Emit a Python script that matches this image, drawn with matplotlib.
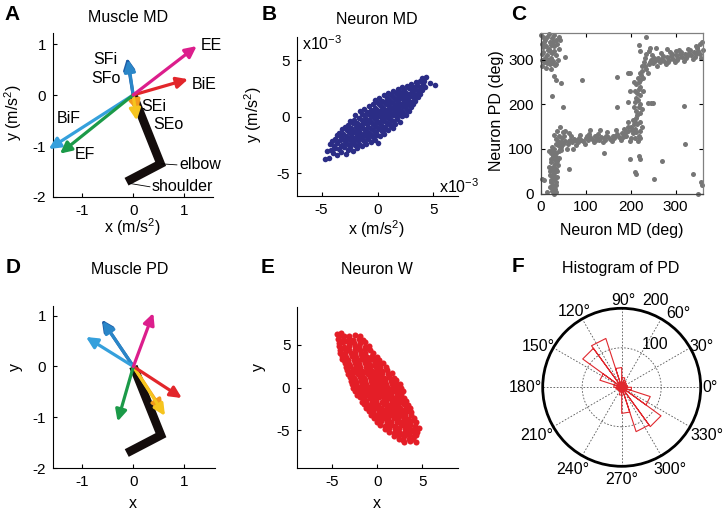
import numpy as np
import matplotlib.pyplot as plt

plt.rcParams['font.family'] = ['Liberation Sans', 'DejaVu Sans']
plt.rcParams['mathtext.fontset'] = 'custom'
plt.rcParams['mathtext.rm'] = 'Liberation Sans'
plt.rcParams['mathtext.it'] = 'Liberation Sans:italic'
plt.rcParams['mathtext.default'] = 'regular'
plt.rcParams['axes.unicode_minus'] = False

W, H = 727, 512

# ---- muscle directions (A: MD, D: PD) ----
muscles = ['SFi', 'SFo', 'SEi', 'SEo', 'BiF', 'BiE', 'EF', 'EE']
muscle_colors = ['#1d5ea8', '#2a86c8', '#f39a1c', '#f6c41e',
                 '#35a0dc', '#e2262b', '#1b9a48', '#dc1e8c']
md_x = [-0.12, -0.10, 0.10, 0.07, -1.66, 1.08, -1.44, 1.25]
md_y = [0.73, 0.69, -0.33, -0.50, -1.06, 0.31, -1.15, 0.96]
pd_x = [-0.62, -0.60, 0.58, 0.62, -0.93, 0.95, -0.31, 0.39]
pd_y = [0.92, 0.89, -0.88, -0.97, 0.58, -0.62, -1.08, 1.05]
arm_x = [0.0, 0.54, -0.13]   # hand, elbow, shoulder
arm_y = [0.0, -1.35, -1.70]

# ---- neuron movement directions (B), units 1e-3 m/s^2 ----
neuron_md = [
    (-4.70, -3.72), (-4.35, -3.68), (-4.52, -3.02), (-4.18, -2.91), (-4.27, -2.45), (-3.97, -3.21),
    (-4.05, -2.18), (-3.82, -2.72), (-3.76, -1.93), (-3.63, -3.38), (-3.58, -2.31), (-3.66, -1.62),
    (-3.41, -2.88), (-3.37, -2.04), (-3.45, -1.41), (-3.22, -3.12), (-3.18, -2.47), (-3.25, -1.83),
    (-3.15, -1.12), (-3.02, -2.71), (-2.96, -2.08), (-3.05, -1.52), (-2.93, -0.88), (-2.84, -3.28),
    (-2.78, -2.33), (-2.81, -1.69), (-2.76, -1.21), (-2.63, -2.92), (-2.57, -2.46), (-2.61, -1.88),
    (-2.55, -1.31), (-2.66, -0.72), (-2.43, -2.68), (-2.38, -2.12), (-2.41, -1.57), (-2.35, -0.98),
    (-2.45, -0.41), (-2.22, -3.01), (-2.18, -2.28), (-2.25, -1.79), (-2.15, -1.22), (-2.21, -0.58),
    (-2.03, -2.52), (-1.97, -1.91), (-2.01, -1.38), (-1.95, -0.87), (-2.06, -0.31), (-1.98, 0.19),
    (-1.82, -2.78), (-1.77, -2.09), (-1.85, -1.62), (-1.76, -1.08), (-1.81, -0.52), (-1.62, -2.41),
    (-1.57, -1.79), (-1.64, -1.27), (-1.55, -0.71), (-1.61, -0.12), (-1.58, 0.48), (-1.42, -2.63),
    (-1.37, -1.98), (-1.44, -1.52), (-1.35, -0.89), (-1.41, -0.28), (-1.36, 0.21), (-1.22, -2.18),
    (-1.17, -1.61), (-1.24, -1.08), (-1.15, -0.51), (-1.21, 0.12), (-1.18, 0.69), (-1.02, -2.42),
    (-0.97, -1.79), (-1.04, -1.22), (-0.95, -0.68), (-1.01, -0.19), (-0.98, 0.41), (-0.82, -1.98),
    (-0.77, -1.41), (-0.84, -0.88), (-0.75, -0.31), (-0.81, 0.28), (-0.78, 0.91), (-0.62, -2.21),
    (-0.57, -1.58), (-0.64, -1.02), (-0.55, -0.47), (-0.61, 0.09), (-0.58, 0.62), (-0.42, -1.82),
    (-0.37, -1.19), (-0.44, -0.68), (-0.35, -0.12), (-0.41, 0.49), (-0.38, 1.08), (-0.22, -2.02),
    (-0.17, -1.38), (-0.24, -0.82), (-0.15, -0.28), (-0.21, 0.31), (-0.18, 0.79), (-0.23, 1.48),
    (-0.02, -1.58), (0.03, -1.02), (-0.04, -0.48), (0.05, 0.08), (-0.01, 0.62), (0.02, 1.19),
    (0.01, -2.31), (0.18, -1.71), (0.23, -1.08), (0.16, -0.58), (0.25, 0.02), (0.19, 0.51),
    (0.22, 1.02), (0.17, 1.68), (0.38, -1.28), (0.43, -0.79), (0.36, -0.22), (0.45, 0.31),
    (0.39, 0.88), (0.42, 1.41), (0.58, -1.52), (0.63, -0.88), (0.56, -0.38), (0.65, 0.18),
    (0.59, 0.72), (0.62, 1.28), (0.57, 1.91), (0.78, -1.08), (0.83, -0.52), (0.76, 0.02),
    (0.85, 0.58), (0.79, 1.12), (0.82, 1.61), (0.98, -1.21), (1.03, -0.68), (0.96, -0.12),
    (1.05, 0.41), (0.99, 0.91), (1.02, 1.48), (0.97, 2.08), (1.18, -0.82), (1.23, -0.28),
    (1.16, 0.31), (1.25, 0.78), (1.19, 1.32), (1.22, 1.88), (1.38, -0.98), (1.43, -0.41),
    (1.36, 0.12), (1.45, 0.62), (1.39, 1.18), (1.42, 1.72), (1.37, 2.28), (1.58, -0.62),
    (1.63, 0.02), (1.56, 0.48), (1.65, 1.02), (1.59, 1.52), (1.62, 2.08), (1.78, -0.22),
    (1.83, 0.31), (1.76, 0.82), (1.85, 1.28), (1.79, 1.88), (1.82, 2.41), (1.98, -0.48),
    (2.03, 0.12), (1.96, 0.58), (2.05, 1.12), (1.99, 1.68), (2.02, 2.22), (2.18, 0.02),
    (2.23, 0.52), (2.16, 0.98), (2.25, 1.52), (2.19, 2.02), (2.22, 2.58), (2.38, 0.28),
    (2.43, 0.82), (2.36, 1.31), (2.45, 1.78), (2.39, 2.32), (2.58, 0.12), (2.63, 0.58),
    (2.56, 1.12), (2.65, 1.62), (2.59, 2.08), (2.62, 2.71), (2.78, 0.52), (2.83, 1.02),
    (2.76, 1.48), (2.85, 2.02), (2.79, 2.52), (2.98, 0.82), (3.03, 1.28), (2.96, 1.82),
    (3.05, 2.31), (2.99, 2.88), (3.18, 1.12), (3.23, 1.62), (3.16, 2.08), (3.25, 2.62),
    (3.38, 1.42), (3.43, 1.88), (3.36, 2.42), (3.45, 3.02), (3.58, 1.72), (3.63, 2.28),
    (3.56, 2.82), (3.78, 2.02), (3.83, 2.58), (3.76, 3.18), (3.98, 2.32), (4.03, 2.88),
    (3.96, 3.41), (4.28, 2.62), (4.32, 3.52), (4.12, 3.12), (4.71, 2.98), (5.12, 2.82),
    (-3.90, -2.62), (-3.30, -2.55), (-2.70, -1.95), (-2.30, -1.40), (-1.70, -1.35), (-1.30, -0.60),
    (-0.90, -0.45), (-0.50, 0.25), (-0.10, -0.05), (0.30, -0.40), (0.70, 0.45), (1.10, 0.15),
    (1.50, 0.90), (1.90, 0.95), (2.30, 1.25), (2.70, 1.90), (3.10, 2.35), (-1.10, -1.45),
    (0.10, 0.35), (0.90, 1.35), (-2.00, -2.10), (1.70, 1.60), (-0.30, -1.60), (0.50, -0.10),
]

# ---- neuron MD vs PD (C), degrees ----
md_pd = [
    (5, 350), (10, 345), (15, 352), (20, 340), (25, 348), (30, 355), (12, 330), (18, 325), (24, 332),
    (30, 320), (6, 318), (14, 310), (22, 305), (28, 298), (35, 310), (8, 295), (16, 300), (20, 290),
    (32, 288), (4, 285), (26, 315), (36, 335), (40, 325), (44, 345), (38, 300), (10, 305), (2, 335),
    (18, 358), (28, 340), (34, 290), (12, 282), (24, 280), (2, 300), (8, 340), (16, 322), (22, 318),
    (30, 330), (40, 350), (3, 312), (20, 300), (26, 292), (14, 292), (6, 328), (34, 345), (1, 355),
    (53, 306), (29, 263), (46, 248), (33, 255), (26, 218), (50, 194), (92, 255), (170, 262),
    (170, 194), (198, 270),
    (25, 5), (30, 0), (32, 10), (28, 20), (22, 30), (35, 25), (26, 40), (30, 45), (20, 50), (34, 55),
    (28, 60), (24, 70), (32, 75), (38, 65), (27, 85), (22, 90), (35, 90), (30, 100), (40, 95),
    (25, 105), (38, 108), (45, 105), (33, 112), (20, 15), (36, 38), (18, 60), (40, 80), (29, 33),
    (23, 78), (31, 66), (37, 50), (26, 12), (33, 3), (21, 42), (27, 52), (36, 72), (19, 95), (30, 88),
    (42, 112), (24, 96), (3, 33), (8, 30), (13, 3), (62, 55), (29, 132), (44, 150), (36, 140),
    (50, 138), (33, 122), (28, 8), (34, 18), (24, 25), (31, 38), (25, 58), (33, 82), (28, 95),
    (45, 98), (38, 118),
    (45, 115), (50, 110), (55, 118), (60, 112), (65, 120), (70, 115), (75, 122), (80, 118), (85, 125),
    (90, 120), (95, 118), (100, 124), (105, 120), (110, 126), (115, 122), (120, 128), (125, 124),
    (130, 120), (135, 127), (140, 125), (145, 130), (150, 126), (155, 122), (160, 130), (165, 128),
    (170, 133), (175, 127), (180, 135), (185, 130), (190, 138), (48, 125), (58, 100), (68, 128),
    (78, 108), (88, 132), (98, 110), (108, 133), (118, 115), (128, 134), (138, 116), (148, 138),
    (158, 118), (168, 142), (178, 120), (52, 130), (62, 135), (72, 100), (42, 100), (40, 130),
    (55, 140), (110, 142), (132, 143), (77, 120), (140, 91), (63, 118), (83, 116), (103, 128),
    (123, 119), (143, 121), (163, 124), (183, 126),
    (195, 140), (200, 150), (205, 135), (210, 145), (215, 155), (220, 140), (200, 125), (210, 125),
    (218, 130), (195, 160), (205, 165), (212, 170), (222, 160), (190, 130), (225, 150), (198, 118),
    (208, 155), (216, 118), (203, 143), (213, 138), (185, 145), (220, 125), (195, 150), (210, 160),
    (215, 175), (220, 180), (212, 185), (218, 195), (222, 200), (210, 205), (216, 210), (220, 220),
    (214, 225), (218, 235), (222, 240), (212, 245), (219, 250), (216, 260), (224, 265), (220, 270),
    (226, 275), (208, 195), (225, 190), (210, 230), (228, 230), (213, 215), (207, 250), (222, 255),
    (225, 285), (230, 295), (235, 280), (240, 290), (245, 300), (250, 292), (255, 298), (260, 305),
    (265, 295), (270, 302), (275, 298), (280, 306), (285, 300), (290, 308), (295, 302), (300, 310),
    (305, 304), (310, 312), (315, 306), (320, 314), (325, 308), (330, 316), (335, 310), (340, 318),
    (345, 312), (350, 320), (355, 314), (360, 322), (232, 305), (238, 270), (248, 310), (258, 285),
    (268, 315), (278, 290), (288, 318), (298, 295), (308, 322), (318, 298), (328, 325), (338, 302),
    (348, 328), (357, 305), (228, 260), (235, 312), (242, 320), (355, 335), (358, 340), (345, 330),
    (231, 285), (243, 296), (253, 303), (263, 300), (273, 309), (283, 296), (293, 313), (303, 300),
    (313, 317), (323, 303), (333, 321), (343, 307),
    (198, 78), (220, 78), (270, 72), (212, 43), (253, 33), (322, 110), (318, 196), (339, 44),
    (356, 26), (358, 19), (350, 0), (239, 203), (245, 203), (250, 203), (195, 205), (198, 229),
    (195, 270), (218, 334), (220, 319), (244, 326), (256, 326), (234, 351), (282, 323), (301, 319),
    (347, 326), (218, 84), (210, 49),
]

# ---- neuron weights (E) ----
neuron_w = [
    (-4.52, 6.28), (-4.08, 6.34),
    (-4.27, 5.97), (-3.66, 6.04), (-3.12, 5.95), (-2.48, 6.07), (-1.96, 5.98),
    (-4.38, 5.62), (-3.83, 5.55), (-3.18, 5.66), (-2.72, 5.58), (-2.06, 5.64), (-1.62, 5.55),
    (-4.26, 5.18), (-3.78, 5.25), (-3.16, 5.14), (-2.63, 5.23), (-1.97, 5.16), (-1.42, 5.24),
    (-4.22, 4.83), (-3.68, 4.76), (-3.14, 4.85), (-2.52, 4.78), (-2.03, 4.86), (-1.42, 4.75), (-0.98, 4.82),
    (-4.18, 4.36), (-3.62, 4.45), (-3.13, 4.38), (-2.47, 4.43), (-1.98, 4.35), (-1.37, 4.46), (-0.78, 4.37),
    (-4.12, 3.96), (-3.63, 4.05), (-2.97, 3.98), (-2.48, 4.03), (-1.87, 3.95), (-1.33, 4.06), (-0.52, 3.97),
    (-3.92, 3.63), (-3.43, 3.55), (-2.82, 3.64), (-2.33, 3.56), (-1.67, 3.65), (-1.18, 3.57), (-0.57, 3.64),
    (-0.08, 3.55),
    (-3.72, 3.16), (-3.23, 3.25), (-2.57, 3.18), (-2.08, 3.24), (-1.47, 3.15), (-0.98, 3.23), (-0.37, 3.17),
    (0.18, 3.24),
    (-3.62, 2.83), (-3.13, 2.75), (-2.52, 2.84), (-2.03, 2.76), (-1.37, 2.85), (-0.88, 2.77), (-0.27, 2.84),
    (0.22, 2.75), (0.68, 2.82),
    (-3.52, 2.36), (-3.03, 2.45), (-2.37, 2.38), (-1.88, 2.44), (-1.27, 2.35), (-0.78, 2.43), (-0.17, 2.37),
    (0.32, 2.44), (0.92, 2.36),
    (-3.38, 2.03), (-2.87, 1.95), (-2.27, 2.04), (-1.73, 1.96), (-1.12, 2.05), (-0.63, 1.97), (-0.02, 2.04),
    (0.47, 1.95), (1.12, 2.03),
    (-3.22, 1.56), (-2.73, 1.65), (-2.12, 1.58), (-1.63, 1.64), (-1.02, 1.55), (-0.53, 1.63), (0.08, 1.57),
    (0.57, 1.64), (1.18, 1.56), (1.62, 1.63),
    (-3.08, 1.23), (-2.57, 1.15), (-1.97, 1.24), (-1.48, 1.16), (-0.87, 1.25), (-0.38, 1.17), (0.23, 1.24),
    (0.72, 1.15), (1.33, 1.23), (1.88, 1.16),
    (-2.93, 0.76), (-2.43, 0.85), (-1.82, 0.78), (-1.33, 0.84), (-0.72, 0.75), (-0.23, 0.83), (0.38, 0.77),
    (0.87, 0.84), (1.48, 0.76), (2.08, 0.83),
    (-2.83, 0.43), (-2.33, 0.35), (-1.72, 0.44), (-1.23, 0.36), (-0.62, 0.45), (-0.13, 0.37), (0.48, 0.44),
    (0.97, 0.35), (1.58, 0.43), (2.07, 0.36), (2.52, 0.44),
    (-2.68, -0.04), (-2.18, 0.05), (-1.57, -0.03), (-1.08, 0.04), (-0.47, -0.05), (0.02, 0.03), (0.63, -0.04),
    (1.12, 0.05), (1.73, -0.03), (2.22, 0.04), (2.68, -0.05),
    (-2.43, -0.37), (-1.93, -0.45), (-1.32, -0.36), (-0.83, -0.44), (-0.22, -0.35), (0.27, -0.43),
    (0.88, -0.37), (1.37, -0.44), (1.98, -0.36), (2.47, -0.45), (2.88, -0.38),
    (-2.23, -0.84), (-1.73, -0.76), (-1.12, -0.85), (-0.63, -0.77), (-0.02, -0.84), (0.47, -0.75),
    (1.08, -0.83), (1.57, -0.76), (2.18, -0.85), (2.68, -0.77),
    (-1.98, -1.16), (-1.48, -1.25), (-0.87, -1.17), (-0.38, -1.24), (0.23, -1.15), (0.72, -1.23),
    (1.33, -1.17), (1.82, -1.24), (2.43, -1.16), (2.97, -1.25),
    (-1.73, -1.64), (-1.23, -1.55), (-0.62, -1.63), (-0.13, -1.56), (0.48, -1.65), (0.97, -1.57),
    (1.58, -1.64), (2.07, -1.55), (2.68, -1.63), (3.18, -1.56),
    (-1.48, -1.96), (-0.98, -2.05), (-0.37, -1.97), (0.12, -2.04), (0.73, -1.95), (1.22, -2.03),
    (1.83, -1.97), (2.32, -2.04), (2.93, -1.96), (3.42, -2.05),
    (-1.23, -2.43), (-0.73, -2.35), (-0.12, -2.44), (0.37, -2.36), (0.98, -2.45), (1.47, -2.37),
    (2.08, -2.44), (2.57, -2.35), (3.18, -2.43), (3.58, -2.36),
    (-0.98, -2.76), (-0.48, -2.85), (0.13, -2.77), (0.62, -2.84), (1.23, -2.75), (1.72, -2.83),
    (2.33, -2.77), (2.82, -2.84), (3.43, -2.76), (3.78, -2.85),
    (-0.68, -3.23), (-0.18, -3.15), (0.43, -3.24), (0.92, -3.16), (1.53, -3.25), (2.02, -3.17),
    (2.63, -3.24), (3.12, -3.15), (3.72, -3.23),
    (-0.38, -3.56), (0.12, -3.65), (0.73, -3.57), (1.22, -3.64), (1.83, -3.55), (2.32, -3.63),
    (2.93, -3.57), (3.42, -3.64), (4.02, -3.56),
    (-0.08, -4.03), (0.42, -3.95), (1.03, -4.04), (1.52, -3.96), (2.13, -4.05), (2.62, -3.97),
    (3.23, -4.04), (3.72, -3.95), (4.33, -4.03),
    (0.33, -4.36), (0.87, -4.45), (1.48, -4.37), (1.97, -4.44), (2.58, -4.35), (3.07, -4.43),
    (3.68, -4.37), (4.18, -4.44),
    (0.82, -4.83), (1.32, -4.75), (1.93, -4.84), (2.42, -4.76), (3.03, -4.85), (3.52, -4.77),
    (4.13, -4.84), (4.58, -4.76),
    (1.32, -5.16), (1.82, -5.25), (2.43, -5.17), (2.92, -5.24), (3.53, -5.15), (4.02, -5.23), (4.43, -5.17),
    (1.87, -5.63), (2.37, -5.55), (2.98, -5.64), (3.47, -5.56), (4.03, -5.65), (4.32, -5.57),
    (2.37, -5.96), (2.87, -6.05), (3.48, -5.97), (3.97, -6.04),
    (2.97, -6.33), (3.58, -6.25), (4.27, -6.32),
    (-3.40, 5.40), (-2.30, 4.60), (-3.90, 3.30), (-1.60, 3.90), (-2.70, 2.20), (-0.40, 2.60),
    (-1.90, 1.40), (0.40, 1.40), (-2.40, 0.60), (0.10, 0.60), (1.80, 0.60), (-1.20, -0.20),
    (1.40, -0.20), (-1.50, -1.00), (0.90, -1.00), (2.60, -1.40), (-0.70, -2.20), (1.60, -2.20),
    (3.00, -2.60), (0.20, -3.40), (2.40, -3.30), (1.20, -4.20), (3.40, -4.60), (2.20, -5.40),
]

# ---- rose histogram of PD (F), 20 bins of 18 deg ----
pd_bin_counts = [15, 12, 15, 18, 25, 50, 130, 122, 58, 20,
                 15, 12, 10, 12, 20, 66, 118, 123, 76, 25]
rose_rmax = 200
angle_ticks = list(range(0, 360, 30))


fig = plt.figure(figsize=(7.27, 5.12), dpi=100)


def add_ax(l, t, r, b):
    return fig.add_axes([l / W, 1 - b / H, (r - l) / W, (b - t) / H])


def ftext(x, y, s, **kw):
    kw.setdefault('ha', 'center')
    kw.setdefault('va', 'center')
    fig.text(x / W, 1 - y / H, s, **kw)


def open_axes(ax):
    ax.spines['top'].set_visible(False)
    ax.spines['right'].set_visible(False)
    for s in ['left', 'bottom']:
        ax.spines[s].set_linewidth(0.8)
    ax.tick_params(direction='in', length=3, width=0.8, labelsize=11, pad=5)


def draw_arm_and_arrows(ax, tx, ty):
    ax.plot(arm_x, arm_y, color='#140d0c', lw=6.2, solid_capstyle='butt',
            solid_joinstyle='miter', zorder=2)
    for x, y, c in zip(tx, ty, muscle_colors):
        ax.annotate('', xy=(x, y), xytext=(0, 0), annotation_clip=False,
                    arrowprops=dict(arrowstyle='-|>,head_length=0.45,head_width=0.22',
                                    color=c, lw=2.3, shrinkA=0, shrinkB=0,
                                    mutation_scale=15), zorder=3)


# A: muscle MD
axA = add_ax(53.3, 32.8, 213, 197)
open_axes(axA)
draw_arm_and_arrows(axA, md_x, md_y)
axA.set_xlim(-1.57, 1.57)
axA.set_ylim(-2, 1.22)
axA.set_xticks([-1, 0, 1])
axA.set_yticks([-2, -1, 0, 1])
lab_pos = {'SFi': (-0.55, 0.70), 'SFo': (-0.53, 0.33), 'SEi': (0.41, -0.23), 'SEo': (0.69, -0.57),
           'BiF': (-1.27, -0.46), 'BiE': (1.39, 0.20), 'EF': (-0.94, -1.16), 'EE': (1.54, 0.98)}
for name in muscles:
    axA.text(*lab_pos[name], name, fontsize=11.5, ha='center', va='center')
axA.plot([0.56, 0.86], [-1.35, -1.37], color='k', lw=0.6)
axA.plot([-0.09, 0.33], [-1.73, -1.80], color='k', lw=0.6)
axA.text(0.90, -1.37, 'elbow', fontsize=11.5, ha='left', va='center')
axA.text(0.36, -1.80, 'shoulder', fontsize=11.5, ha='left', va='center')

# B: neuron MD
axB = add_ax(297, 37.4, 458, 196)
open_axes(axB)
b = np.array(neuron_md)
axB.scatter(b[:, 0], b[:, 1], s=16, color='#2b2d86', linewidths=0)
axB.set_xlim(-7.2, 7.2)
axB.set_ylim(-7, 7)
axB.set_xticks([-5, 0, 5])
axB.set_yticks([-5, 0, 5])
ftext(302, 50, 'x10$^{-3}$', ha='left', va='baseline', fontsize=11.5)
ftext(439, 193, 'x10$^{-3}$', ha='left', va='baseline', fontsize=11.5)

# C: neuron MD vs PD
axC = add_ax(540.7, 33, 702.5, 193.5)
c = np.array(md_pd)
axC.scatter(c[:, 0], c[:, 1], s=13, color='#767676', linewidths=0, clip_on=False)
axC.set_xlim(0, 360)
axC.set_ylim(0, 360)
axC.set_xticks([0, 100, 200, 300])
axC.set_yticks([0, 100, 200, 300])
axC.tick_params(direction='in', length=3, width=0.8, labelsize=11, pad=5, top=True, right=True)
for s in ['left', 'bottom']:
    axC.spines[s].set_color('#444444')
for s in ['top', 'right']:
    axC.spines[s].set_color('#808080')
for s in axC.spines.values():
    s.set_linewidth(0.9)

# D: muscle PD
axD = add_ax(53.3, 306.4, 215, 468.3)
open_axes(axD)
draw_arm_and_arrows(axD, pd_x, pd_y)
axD.set_xlim(-1.57, 1.6)
axD.set_ylim(-2, 1.18)
axD.set_xticks([-1, 0, 1])
axD.set_yticks([-2, -1, 0, 1])

# E: neuron W
axE = add_ax(297.3, 306.7, 458.3, 468.3)
open_axes(axE)
e = np.array(neuron_w)
axE.scatter(e[:, 0], e[:, 1], s=19, color='#e41e27', linewidths=0)
axE.set_xlim(-8.9, 9.0)
axE.set_ylim(-9.4, 9.4)
axE.set_xticks([-5, 0, 5])
axE.set_yticks([-5, 0, 5])

# F: rose histogram of PD (drawn in data units, 79 px per rmax)
axF = add_ax(521.7, 287.3, 721.7, 487.3)
px = 79 / rose_rmax
lim = 100 / px
axF.set_xlim(-lim, lim)
axF.set_ylim(-lim, lim)
axF.axis('off')
for a in angle_ticks[:6]:
    t = np.deg2rad(a)
    axF.plot([-rose_rmax * np.cos(t), rose_rmax * np.cos(t)],
             [-rose_rmax * np.sin(t), rose_rmax * np.sin(t)],
             color='#555555', lw=0.6, ls=(0, (2, 2)), zorder=1)
axF.add_patch(plt.Circle((0, 0), 100, fill=False, ec='#555555', lw=0.6, ls=(0, (2, 2)), zorder=1))
edges = np.deg2rad(np.arange(len(pd_bin_counts) + 1) * 360 / len(pd_bin_counts))
rx, ry = [], []
for i, n in enumerate(pd_bin_counts):
    rx += [0, n * np.cos(edges[i]), n * np.cos(edges[i + 1]), 0]
    ry += [0, n * np.sin(edges[i]), n * np.sin(edges[i + 1]), 0]
axF.plot(rx, ry, color='#e0282e', lw=0.8, zorder=2)
axF.add_patch(plt.Circle((0, 0), rose_rmax, fill=False, ec='k', lw=2, zorder=3))
# label offsets from centre, in pixels
label_off = [(88, 0), (80, 41), (57, 74), (2, 87), (-47, 76), (-83, 41),
             (-96, 0), (-85, -48), (-49, -82), (0, -92), (48, -82), (85, -48)]
for a, (dx, dy) in zip(angle_ticks, label_off):
    axF.text(dx / px, dy / px, f'{a}\u00b0', fontsize=11.5,
             ha='center', va='center', clip_on=False)
axF.text(33 / px, 43 / px, '100', fontsize=11.5, ha='center', va='center')
axF.text(34 / px, 87 / px, '200', fontsize=11.5, ha='center', va='center', clip_on=False)

# titles, axis labels, panel letters
ftext(128, 18, 'Muscle MD', fontsize=11.5)
ftext(377, 19, 'Neuron MD', fontsize=11.5)
ftext(130, 269, 'Muscle PD', fontsize=11.5)
ftext(377, 269, 'Neuron W', fontsize=11.5)
ftext(621, 269, 'Histogram of PD', fontsize=11.5)

ftext(132.5, 227.5, 'x (m/s$^{2}$)', fontsize=11.5)
ftext(13.3, 113, 'y (m/s$^{2}$)', fontsize=11.5, rotation=90)
ftext(376.7, 229.5, 'x (m/s$^{2}$)', fontsize=11.5)
ftext(253, 115, 'y (m/s$^{2}$)', fontsize=11.5, rotation=90)
ftext(621.7, 230, 'Neuron MD (deg)', fontsize=11.5)
ftext(496, 111, 'Neuron PD (deg)', fontsize=11.5, rotation=90)
ftext(133, 503, 'x', fontsize=11.5)
ftext(15, 366.7, 'y', fontsize=11.5, rotation=90)
ftext(376.7, 503, 'x', fontsize=11.5)
ftext(258.3, 366.7, 'y', fontsize=11.5, rotation=90)

for letter, (x, y) in {'A': (12, 15), 'B': (269, 14.5), 'C': (519, 15),
                       'D': (13, 267.5), 'E': (268, 267.5), 'F': (518, 266.5)}.items():
    ftext(x, y, letter, fontsize=15, fontweight='bold')

fig.savefig('out.png', dpi=100)
